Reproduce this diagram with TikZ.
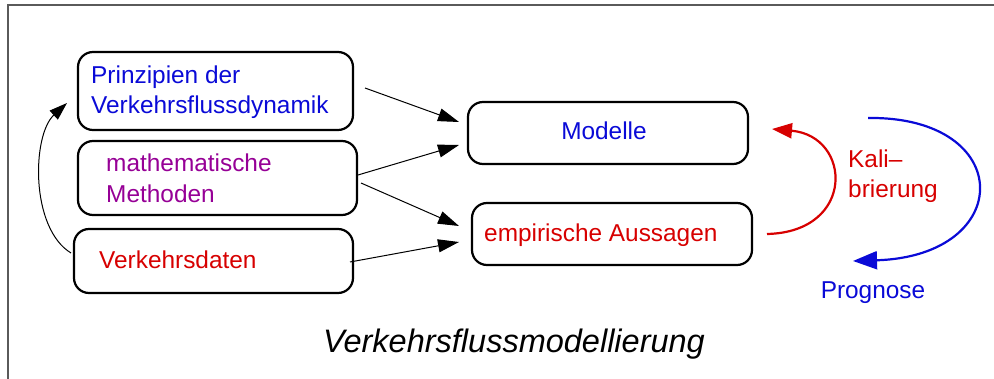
\documentclass[tikz,border=0pt]{standalone}
\usepackage{fontspec}
\setmainfont{Liberation Sans}
\usetikzlibrary{arrows.meta}
\definecolor{tblue}{RGB}{10,10,215}
\definecolor{tred}{RGB}{215,0,0}
\definecolor{tpurple}{RGB}{150,0,150}
\definecolor{frame}{RGB}{90,90,90}
\begin{document}
\begin{tikzpicture}[x=1pt,y=-1pt,
  box/.style={draw,line width=2.2pt,rounded corners=15pt,inner sep=0pt},
  lbl/.style={anchor=base west,inner sep=0pt,font=\fontsize{24.4}{30}\selectfont},
  conn/.style={line width=1pt,-{Triangle[length=21pt,width=13pt]}},
  loop/.style={line width=2.2pt}]
\useasboundingbox (0,0) rectangle (994,379);
\draw[frame,line width=2pt] (994,5) -- (8,5) -- (8,379);
% boxes
\node[box,minimum width=275pt,minimum height=78pt] (p) at (215.5,91) {};
\node[box,minimum width=279pt,minimum height=74pt] (m) at (217.5,178) {};
\node[box,minimum width=279pt,minimum height=64pt] (v) at (213.5,261) {};
\node[box,minimum width=280pt,minimum height=62pt] (mod) at (608,133) {};
\node[box,minimum width=280pt,minimum height=62pt] (emp) at (612,234) {};
% texts
\node[lbl,text=tblue] (p1) at (91,84) {Prinzipien der};
\node[lbl,text=tblue] (p2) at (91,114) {Verkehrsflussdynamik};
\node[lbl,text=tpurple] (m1) at (106,172) {mathematische};
\node[lbl,text=tpurple] (m2) at (106,203) {Methoden};
\node[lbl,text=tred] (v1) at (99,269) {Verkehrsdaten};
\node[lbl,text=tblue,anchor=base] (mt) at (604,140) {Modelle};
\node[lbl,text=tred] (et) at (484,242) {empirische Aussagen};
\node[lbl,text=tred] (k1) at (848,168) {Kali\textendash};
\node[lbl,text=tred] (k2) at (848,198) {brierung};
\node[lbl,text=tblue,anchor=base] (pg) at (873,299) {Prognose};
\node[anchor=base,inner sep=0pt,font=\fontsize{32.5}{36}\selectfont\itshape] (title) at (514,353) {Verkehrsflussmodellierung};
% connector endpoints
\coordinate (a1s) at (365,88);  \coordinate (a1e) at (459,122);
\coordinate (a2s) at (358,175); \coordinate (a2e) at (459,145);
\coordinate (a3s) at (361,183); \coordinate (a3e) at (459,226);
\coordinate (a4s) at (350,262); \coordinate (a4e) at (459,242);
\draw[conn] (a1s) -- (a1e);
\draw[conn] (a2s) -- (a2e);
\draw[conn] (a3s) -- (a3e);
\draw[conn] (a4s) -- (a4e);
% left feedback arrow
\coordinate (ls) at (71,253); \coordinate (le) at (67,103);
\draw[line width=1pt,-{Triangle[length=18pt,width=12pt]}] (ls) .. controls (30,228) and (32,135) .. (le);
% calibration
\coordinate (ks) at (767,234); \coordinate (ke) at (772,129);
\draw[loop,tred,-{Triangle[length=20pt,width=15pt]}] (ks) .. controls (856,232) and (852,136) .. (ke);
% prognosis
\coordinate (gs) at (868,118); \coordinate (ge) at (853,261);
\draw[loop,tblue,-{Triangle[length=24pt,width=18pt]}] (gs) .. controls (1016,116) and (1016,256) .. (ge);
\end{tikzpicture}
\end{document}
